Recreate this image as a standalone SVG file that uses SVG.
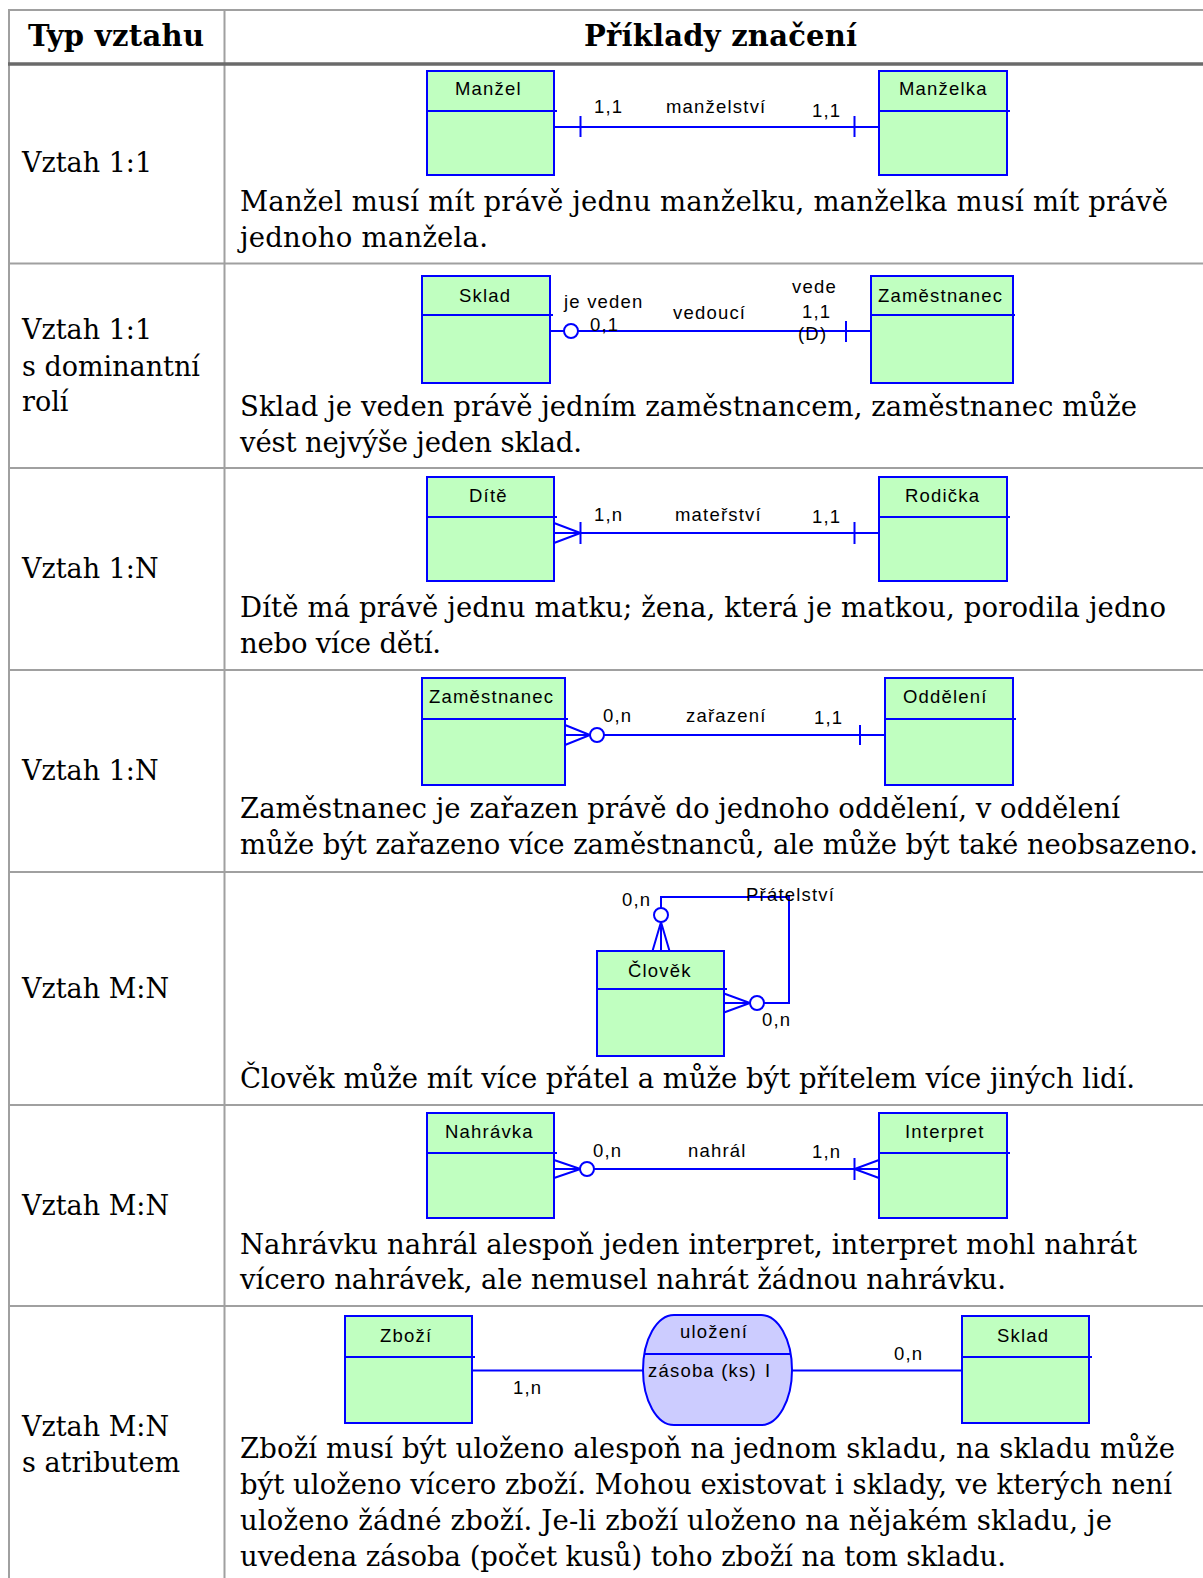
<svg xmlns="http://www.w3.org/2000/svg" width="1203" height="1578" viewBox="0 0 1203 1578">
  <style>
    .grid { stroke: #a0a0a0; stroke-width: 2; fill: none; }
    .head-rule { stroke: #6a6a6a; stroke-width: 3.5; }
    .th { font-family: "DejaVu Serif", "Liberation Serif", serif; font-size: 29px; font-weight: bold; fill: #000; }
    .kind { font-family: "DejaVu Serif", "Liberation Serif", serif; font-size: 27px; fill: #000; }
    .desc { font-family: "DejaVu Serif", "Liberation Serif", serif; font-size: 27.5px; fill: #000; }
    .ent rect { fill: #c0ffc0; stroke: #0000ff; stroke-width: 2; }
    .ent line { stroke: #0000ff; stroke-width: 2; }
    .rel path.shape { fill: #ccccff; stroke: #0000ff; stroke-width: 2; }
    .rel line { stroke: #0000ff; stroke-width: 2; }
    .name, .lbl { font-family: "Liberation Sans", Arial, sans-serif; font-size: 18.5px; letter-spacing: 1.2px; fill: #000; }
    .conn line, .conn path, .conn polyline { stroke: #0000ff; stroke-width: 2; fill: none; }
    .conn circle { stroke: #0000ff; stroke-width: 2; fill: #fff; }
  </style>

  <rect x="0" y="0" width="1203" height="1578" fill="#fff"/>

  <!-- table grid -->
  <g id="table">
    <line class="grid" x1="8" y1="10" x2="1203" y2="10"/>
    <line class="grid" x1="9" y1="10" x2="9" y2="1578"/>
    <line class="grid" x1="224.5" y1="10" x2="224.5" y2="1578"/>
    <line class="head-rule" x1="8" y1="64" x2="1203" y2="64"/>
    <line class="grid" x1="8" y1="263.5" x2="1203" y2="263.5"/>
    <line class="grid" x1="8" y1="468" x2="1203" y2="468"/>
    <line class="grid" x1="8" y1="670" x2="1203" y2="670"/>
    <line class="grid" x1="8" y1="872" x2="1203" y2="872"/>
    <line class="grid" x1="8" y1="1105" x2="1203" y2="1105"/>
    <line class="grid" x1="8" y1="1306" x2="1203" y2="1306"/>
    <text class="th" x="28" y="46" textLength="176">Typ vztahu</text>
    <text class="th" x="584" y="46" textLength="273">Příklady značení</text>
  </g>

  <!-- relationship kinds (left column) -->
  <g id="kinds">
    <text class="kind" x="22" y="172">Vztah 1:1</text>
    <text class="kind" x="22" y="339">Vztah 1:1</text>
    <text class="kind" x="22" y="376">s dominantní</text>
    <text class="kind" x="22" y="411">rolí</text>
    <text class="kind" x="22" y="578">Vztah 1:N</text>
    <text class="kind" x="22" y="780">Vztah 1:N</text>
    <text class="kind" x="22" y="998">Vztah M:N</text>
    <text class="kind" x="22" y="1215">Vztah M:N</text>
    <text class="kind" x="22" y="1436">Vztah M:N</text>
    <text class="kind" x="22" y="1472">s atributem</text>
  </g>

  <!-- descriptions -->
  <g id="descriptions">
    <text class="desc" x="240" y="211" textLength="928">Manžel musí mít právě jednu manželku, manželka musí mít právě</text>
    <text class="desc" x="240" y="247" textLength="248">jednoho manžela.</text>
    <text class="desc" x="240" y="416" textLength="897">Sklad je veden právě jedním zaměstnancem, zaměstnanec může</text>
    <text class="desc" x="240" y="452" textLength="342">vést nejvýše jeden sklad.</text>
    <text class="desc" x="240" y="617" textLength="926">Dítě má právě jednu matku; žena, která je matkou, porodila jedno</text>
    <text class="desc" x="240" y="653" textLength="201">nebo více dětí.</text>
    <text class="desc" x="240" y="818" textLength="880">Zaměstnanec je zařazen právě do jednoho oddělení, v oddělení</text>
    <text class="desc" x="240" y="854" textLength="958">může být zařazeno více zaměstnanců, ale může být také neobsazeno.</text>
    <text class="desc" x="240" y="1088" textLength="895">Člověk může mít více přátel a může být přítelem více jiných lidí.</text>
    <text class="desc" x="240" y="1254" textLength="897">Nahrávku nahrál alespoň jeden interpret, interpret mohl nahrát</text>
    <text class="desc" x="240" y="1289" textLength="766">vícero nahrávek, ale nemusel nahrát žádnou nahrávku.</text>
    <text class="desc" x="240" y="1458" textLength="935">Zboží musí být uloženo alespoň na jednom skladu, na skladu může</text>
    <text class="desc" x="240" y="1494" textLength="932">být uloženo vícero zboží. Mohou existovat i sklady, ve kterých není</text>
    <text class="desc" x="240" y="1530" textLength="872">uloženo žádné zboží. Je-li zboží uloženo na nějakém skladu, je</text>
    <text class="desc" x="240" y="1566" textLength="766">uvedena zásoba (počet kusů) toho zboží na tom skladu.</text>
  </g>

  <!-- connectors -->
  <g id="connectors" class="conn">
    <!-- manželství -->
    <line x1="554" y1="127" x2="879" y2="127"/>
    <line x1="580.5" y1="116" x2="580.5" y2="137"/>
    <line x1="854.5" y1="116" x2="854.5" y2="137"/>
    <!-- vedoucí -->
    <line x1="550" y1="331" x2="871" y2="331"/>
    <circle cx="571" cy="331" r="7"/>
    <line x1="846" y1="321" x2="846" y2="342"/>
    <!-- mateřství -->
    <line x1="554" y1="533" x2="879" y2="533"/>
    <polyline points="554,523 580.5,533 554,543"/>
    <line x1="580.5" y1="522" x2="580.5" y2="544"/>
    <line x1="854.5" y1="522" x2="854.5" y2="544"/>
    <!-- zařazení -->
    <line x1="565" y1="735" x2="885" y2="735"/>
    <polyline points="565,725 590,735 565,745"/>
    <circle cx="597" cy="735" r="7"/>
    <line x1="860" y1="725" x2="860" y2="745"/>
    <!-- přátelství (recursive) -->
    <path d="M661,909 V897 H789 V1003 H763"/>
    <line x1="661" y1="951" x2="661" y2="922"/>
    <polyline points="652.5,951 661,922 669.5,951"/>
    <circle cx="661" cy="915" r="7"/>
    <line x1="724" y1="1003" x2="750" y2="1003"/>
    <polyline points="724,993.5 750,1003 724,1012.5"/>
    <circle cx="757" cy="1003" r="7"/>
    <!-- nahrál -->
    <line x1="554" y1="1169" x2="879" y2="1169"/>
    <polyline points="554,1160 580.5,1169 554,1178"/>
    <circle cx="587" cy="1169" r="7"/>
    <line x1="854.5" y1="1158" x2="854.5" y2="1180"/>
    <polyline points="879,1160 854.5,1169 879,1178"/>
    <!-- uložení -->
    <line x1="472" y1="1370.5" x2="643" y2="1370.5"/>
    <line x1="792" y1="1370.5" x2="962" y2="1370.5"/>
  </g>

  <!-- connector labels -->
  <g id="connector-labels">
    <text class="lbl" x="594" y="113">1,1</text>
    <text class="lbl" x="666" y="113">manželství</text>
    <text class="lbl" x="812" y="117">1,1</text>

    <text class="lbl" x="564" y="308">je veden</text>
    <text class="lbl" x="590" y="331">0,1</text>
    <text class="lbl" x="673" y="319">vedoucí</text>
    <text class="lbl" x="792" y="293">vede</text>
    <text class="lbl" x="802" y="318">1,1</text>
    <text class="lbl" x="798" y="340">(D)</text>

    <text class="lbl" x="594" y="521">1,n</text>
    <text class="lbl" x="675" y="521">mateřství</text>
    <text class="lbl" x="812" y="523">1,1</text>

    <text class="lbl" x="603" y="722">0,n</text>
    <text class="lbl" x="686" y="722">zařazení</text>
    <text class="lbl" x="814" y="724">1,1</text>

    <text class="lbl" x="622" y="906">0,n</text>
    <text class="lbl" x="746" y="901">Přátelství</text>
    <text class="lbl" x="762" y="1026">0,n</text>

    <text class="lbl" x="593" y="1157">0,n</text>
    <text class="lbl" x="688" y="1157">nahrál</text>
    <text class="lbl" x="812" y="1158">1,n</text>

    <text class="lbl" x="513" y="1394">1,n</text>
    <text class="lbl" x="894" y="1360">0,n</text>
  </g>

  <!-- entities -->
  <g id="manzel" class="ent">
    <rect x="427" y="71" width="127" height="104"/>
    <line x1="427" y1="111" x2="557" y2="111"/>
    <text class="name" x="455" y="95">Manžel</text>
  </g>
  <g id="manzelka" class="ent">
    <rect x="879" y="71" width="128" height="104"/>
    <line x1="879" y1="111" x2="1010" y2="111"/>
    <text class="name" x="899" y="95">Manželka</text>
  </g>

  <g id="sklad-1" class="ent">
    <rect x="422" y="276" width="128" height="107"/>
    <line x1="422" y1="315" x2="553" y2="315"/>
    <text class="name" x="459" y="302">Sklad</text>
  </g>
  <g id="zamestnanec-1" class="ent">
    <rect x="871" y="276" width="142" height="107"/>
    <line x1="871" y1="315" x2="1015" y2="315"/>
    <text class="name" x="878" y="302">Zaměstnanec</text>
  </g>

  <g id="dite" class="ent">
    <rect x="427" y="477" width="127" height="104"/>
    <line x1="427" y1="517" x2="557" y2="517"/>
    <text class="name" x="469" y="502">Dítě</text>
  </g>
  <g id="rodicka" class="ent">
    <rect x="879" y="477" width="128" height="104"/>
    <line x1="879" y1="517" x2="1010" y2="517"/>
    <text class="name" x="905" y="502">Rodička</text>
  </g>

  <g id="zamestnanec-2" class="ent">
    <rect x="422" y="678" width="143" height="107"/>
    <line x1="422" y1="719" x2="568" y2="719"/>
    <text class="name" x="429" y="703">Zaměstnanec</text>
  </g>
  <g id="oddeleni" class="ent">
    <rect x="885" y="678" width="128" height="107"/>
    <line x1="885" y1="719" x2="1016" y2="719"/>
    <text class="name" x="903" y="703">Oddělení</text>
  </g>

  <g id="clovek" class="ent">
    <rect x="597" y="951" width="127" height="105"/>
    <line x1="597" y1="989" x2="727" y2="989"/>
    <text class="name" x="628" y="977">Člověk</text>
  </g>

  <g id="nahravka" class="ent">
    <rect x="427" y="1113" width="127" height="105"/>
    <line x1="427" y1="1153" x2="557" y2="1153"/>
    <text class="name" x="445" y="1138">Nahrávka</text>
  </g>
  <g id="interpret" class="ent">
    <rect x="879" y="1113" width="128" height="105"/>
    <line x1="879" y1="1153" x2="1010" y2="1153"/>
    <text class="name" x="905" y="1138">Interpret</text>
  </g>

  <g id="zbozi" class="ent">
    <rect x="345" y="1316" width="127" height="107"/>
    <line x1="345" y1="1357" x2="475" y2="1357"/>
    <text class="name" x="380" y="1342">Zboží</text>
  </g>
  <g id="ulozeni" class="rel">
    <path class="shape" d="M674,1315 H761 A31,55 0 0 1 761,1425 H674 A31,55 0 0 1 674,1315 Z"/>
    <line x1="644" y1="1354" x2="791" y2="1354"/>
    <text class="name" x="680" y="1338">uložení</text>
    <text class="name" x="648" y="1377">zásoba (ks)</text>
    <text class="name" x="765" y="1377">I</text>
  </g>
  <g id="sklad-2" class="ent">
    <rect x="962" y="1316" width="127" height="107"/>
    <line x1="962" y1="1357" x2="1092" y2="1357"/>
    <text class="name" x="997" y="1342">Sklad</text>
  </g>
</svg>
